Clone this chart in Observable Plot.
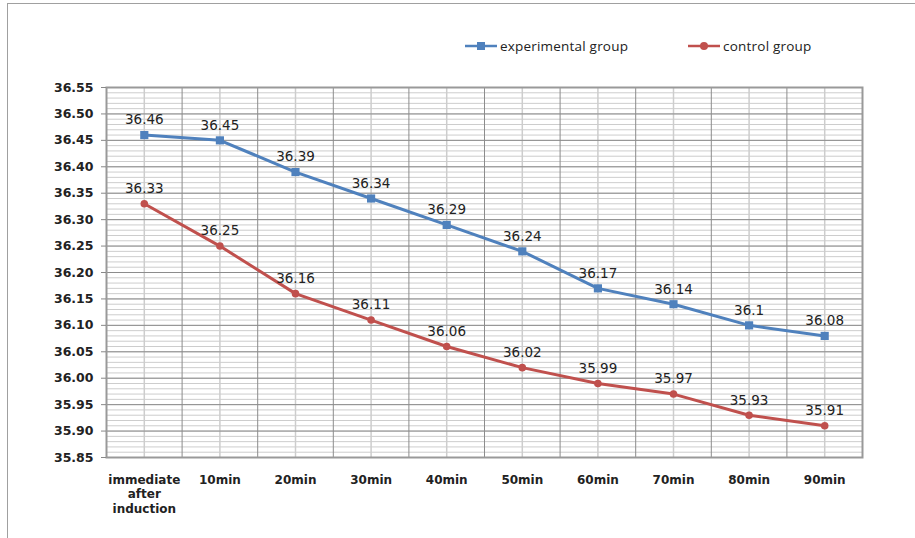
<!DOCTYPE html>
<html>
<head>
<meta charset="utf-8">
<script src="https://cdn.jsdelivr.net/npm/d3@7"></script>
<script src="https://cdn.jsdelivr.net/npm/@observablehq/plot@0.6"></script>
<style>
  html, body { margin: 0; padding: 0; background: #fff; }
  #wrap { position: relative; width: 915px; height: 538px; overflow: hidden; }
  #border { position: absolute; left: 7px; top: 3px; width: 1000px; height: 1000px;
            border-left: 1.5px solid #a0a0a0; border-top: 1.5px solid #a0a0a0; }
  #legend { position: absolute; top: 37px; left: 465px; display: flex; gap: 60px;
            font-family: "Open Sans", sans-serif; font-size: 13.5px; letter-spacing: 0.2px; color: #222; }
  .item { display: flex; align-items: center; gap: 3px; }
  #chart { position: absolute; left: 0; top: 0; }
</style>
</head>
<body>
<div id="wrap">
  <div id="border"></div>
  <div id="chart"></div>
  <div id="legend"></div>
</div>
<script>
const categories = ["immediate\nafter\ninduction", "10min", "20min", "30min", "40min", "50min", "60min", "70min", "80min", "90min"];
const experimental = [36.46, 36.45, 36.39, 36.34, 36.29, 36.24, 36.17, 36.14, 36.1, 36.08];
const control = [36.33, 36.25, 36.16, 36.11, 36.06, 36.02, 35.99, 35.97, 35.93, 35.91];
const yTicks = [35.85, 35.90, 35.95, 36.00, 36.05, 36.10, 36.15, 36.20, 36.25, 36.30, 36.35, 36.40, 36.45, 36.50, 36.55];
const seriesNames = ["experimental group", "control group"];
const seriesColors = ["#4F81BD", "#C0504D"];

const idx = categories.map((_, i) => i);
const boundaries = d3.range(-0.5, categories.length, 1);
const minorY = d3.range(0, 71).map(k => +(35.85 + k * 0.01).toFixed(2));

const rows = [];
idx.forEach(i => {
  rows.push({i, v: experimental[i], s: seriesNames[0]});
  rows.push({i, v: control[i], s: seriesNames[1]});
});
const expRows = rows.filter(d => d.s === seriesNames[0]);
const ctlRows = rows.filter(d => d.s === seriesNames[1]);

const chart = Plot.plot({
  width: 915,
  height: 538,
  marginTop: 87,
  marginBottom: 81,
  marginLeft: 106,
  marginRight: 53,
  style: {fontFamily: "DejaVu Sans", background: "transparent", color: "#222"},
  x: {type: "linear", domain: [-0.5, categories.length - 0.5]},
  y: {domain: [35.85, 36.55]},
  marks: [
    Plot.ruleY(minorY, {stroke: "#cdcdcd", strokeWidth: 1}),
    Plot.ruleX(idx, {stroke: "#cdcdcd", strokeWidth: 1.5}),
    Plot.ruleY(yTicks, {stroke: "#8c8c8c", strokeWidth: 1}),
    Plot.ruleX(boundaries, {stroke: "#8c8c8c", strokeWidth: 1}),
    Plot.frame({stroke: "#999", strokeWidth: 2}),
    Plot.axisY({ticks: yTicks, tickFormat: d3.format(".2f"), tickSize: 5, tickPadding: 8,
                fontSize: 12.5, fontWeight: "bold", stroke: "#888", label: null}),
    Plot.axisX({ticks: idx, tickFormat: i => categories[i], tickSize: 0, tickPadding: 16,
                fontSize: 12, fontWeight: "bold", lineHeight: 1.2, label: null}),
    Plot.line(expRows, {x: "i", y: "v", stroke: seriesColors[0], strokeWidth: 3}),
    Plot.line(ctlRows, {x: "i", y: "v", stroke: seriesColors[1], strokeWidth: 3}),
    Plot.dot(expRows, {x: "i", y: "v", symbol: "square", r: 4.6, fill: seriesColors[0], stroke: "none"}),
    Plot.dot(ctlRows, {x: "i", y: "v", symbol: "circle", r: 3.8, fill: seriesColors[1], stroke: "none"}),
    Plot.text(rows, {x: "i", y: "v", text: d => String(d.v), dy: -15, fontSize: 13.5, fill: "#222", fontFamily: "DejaVu Sans"})
  ]
});
document.getElementById("chart").appendChild(chart);

const legend = document.getElementById("legend");
seriesNames.forEach((name, k) => {
  const item = document.createElement("div");
  item.className = "item";
  const marker = k === 0
    ? `<rect x="12" y="4" width="8" height="8" fill="${seriesColors[k]}"/>`
    : `<circle cx="16" cy="8" r="4" fill="${seriesColors[k]}"/>`;
  item.innerHTML = `<svg width="32" height="16"><line x1="0" x2="32" y1="8" y2="8" stroke="${seriesColors[k]}" stroke-width="2.5"/>${marker}</svg><span>${name}</span>`;
  legend.appendChild(item);
});
</script>
</body>
</html>
